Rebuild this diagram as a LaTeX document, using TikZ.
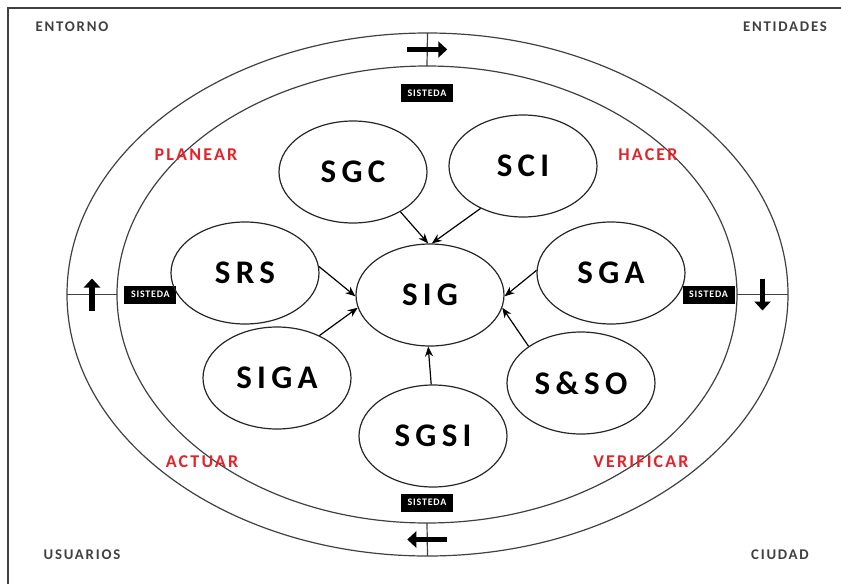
\documentclass[tikz,border=0pt]{standalone}
\usepackage{fontspec}
\newfontfamily\sisfont[LetterSpace=16]{Carlito}
\newfontfamily\etqfont[LetterSpace=12]{Carlito}
\newfontfamily\cajafont[LetterSpace=8]{Carlito}
\usetikzlibrary{arrows.meta,shapes.geometric,positioning,calc}
\definecolor{rojo}{RGB}{226,36,42}
\definecolor{gris}{RGB}{64,64,64}
\newcommand{\Sistema}[3]% pos, name, text
{\node[subsis] (#2) at (#1) {#3};
  % \node[ellipse,draw,minimum width=70pt] (#2) at (#1) {};
}
\newcommand{\Flecha}[2]%
{ \draw[->,>={Stealth[length=5pt,width=4pt]},line width=0.6pt] (#1) -- (#2);
}
\newcommand{\Giro}[3]% from, to, shift
{ \draw[line width=2.8pt,-{Triangle[length=4.5pt,width=8pt]}] ($(#1)!0.5!(#2)+#3$) -- ($(#1)!0.5!(#2)-#3$);
}
\tikzset{
  subsis/.style={ellipse,draw=black!85,line width=0.6pt,minimum width=74pt,minimum height=51pt,
    inner sep=0pt,font=\sisfont\bfseries\fontsize{16.5}{18}\selectfont},
  anillo/.style={ellipse,draw=gris,line width=0.6pt,inner sep=0pt,outer sep=0pt},
  caja/.style={fill=black,text=white,minimum width=26pt,minimum height=9pt,inner sep=0pt,
    font=\cajafont\bfseries\fontsize{5}{6}\selectfont},
  fase/.style={text=rojo,font=\etqfont\bfseries\fontsize{9}{10}\selectfont},
  esquina/.style={text=gris,font=\etqfont\bfseries\fontsize{7.4}{9}\selectfont},
  marca/.style={draw=gris,line width=0.6pt}
}
\begin{document}
\begin{tikzpicture}[x=0.5pt,y=-0.5pt]
  \useasboundingbox (0,0) rectangle (841,584);
  \draw[gris,line width=0.8pt] (8,584) -- (8,8) -- (841,8);
  % rings
  \node[anillo,minimum width=360.5pt,minimum height=261.5pt] (outer) at (427.5,294.5) {};
  \node[anillo,minimum width=310pt,minimum height=228.5pt] (inner) at (427,294.5) {};
  \draw[marca] (outer.north) -- (inner.north);
  \draw[marca] (outer.south) -- (inner.south);
  \draw[marca] (outer.west) -- (inner.west);
  \draw[marca] (outer.east) -- (inner.east);
  \Giro{outer.north}{inner.north}{(-20,0)}
  \Giro{outer.south}{inner.south}{(20,0)}
  \Giro{outer.west}{inner.west}{(0,16)}
  \Giro{outer.east}{inner.east}{(0,-16)}
  \node[caja,below=9pt of inner.north] (stop) {SISTEDA};
  \node[caja,above=5.5pt of inner.south] (sbottom) {SISTEDA};
  \node[caja,right=3.5pt of inner.west] (sleft) {SISTEDA};
  \node[caja,left=1pt of inner.east] (sright) {SISTEDA};
  % corners
  \node[esquina] (entorno) at (72,27) {ENTORNO};
  \node[esquina] (entidades) at (785,27) {ENTIDADES};
  \node[esquina] (usuarios) at (82,555) {USUARIOS};
  \node[esquina] (ciudad) at (780,555) {CIUDAD};
  % phases
  \node[fase] (planear) at (196,155) {PLANEAR};
  \node[fase] (hacer) at (648,155) {HACER};
  \node[fase] (actuar) at (202,462) {ACTUAR};
  \node[fase] (verificar) at (641,462) {VERIFICAR};
  % systems
  \Sistema{430,295}{sig}{SIG}
  \Sistema{353,172}{sgc}{SGC}
  \Sistema{523,166}{sci}{SCI}
  \Sistema{245,273}{srs}{SRS}
  \Sistema{611,273}{sga}{SGA}
  \Sistema{277,378}{siga}{SIGA}
  \Sistema{433,436}{sgsi}{SGSI}
  \Sistema{581,383}{sso}{S\&SO}
  \Flecha{sgc.-40}{sig.92}
  \Flecha{sci.-135}{sig.88}
  \Flecha{srs.5}{sig.181}
  \Flecha{sga.178}{sig.-1}
  \Flecha{siga.45}{sig.190}
  \Flecha{sso.145}{sig.-10}
  \Flecha{sgsi.92}{sig.268}
\end{tikzpicture}
\end{document}
